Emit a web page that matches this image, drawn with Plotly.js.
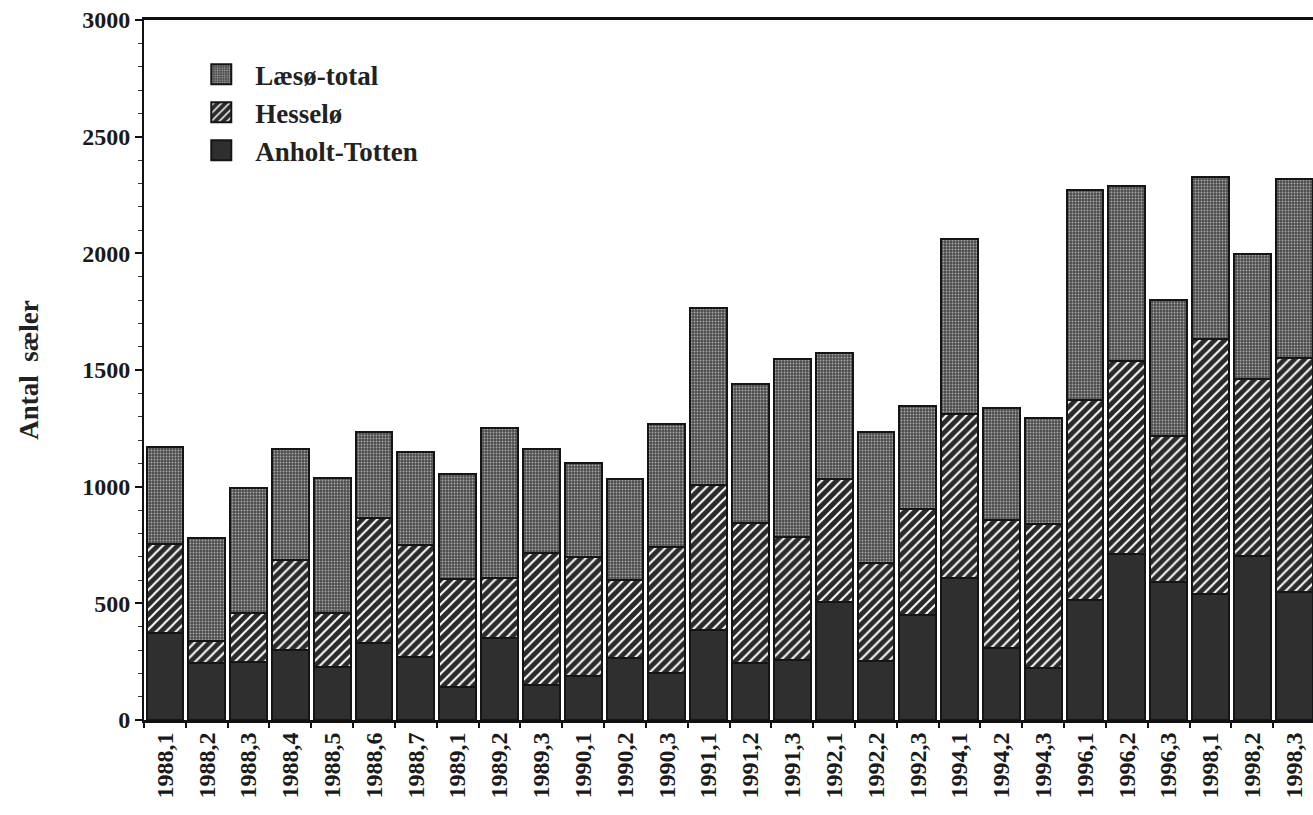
<!DOCTYPE html>
<html>
<head>
<meta charset="utf-8">
<script src="https://cdn.plot.ly/plotly-3.0.1.min.js"></script>
<style>html,body{margin:0;padding:0;background:#fff;}#chart{width:1313px;height:815px;}</style>
</head>
<body>
<div id="chart"></div>
<script>
const categories = ["1988,1","1988,2","1988,3","1988,4","1988,5","1988,6","1988,7",
  "1989,1","1989,2","1989,3","1990,1","1990,2","1990,3",
  "1991,1","1991,2","1991,3","1992,1","1992,2","1992,3",
  "1994,1","1994,2","1994,3","1996,1","1996,2","1996,3",
  "1998,1","1998,2","1998,3"];
const anholtTotten = [372,243,250,300,229,332,272,143,350,150,190,267,203,386,246,257,507,253,450,610,308,221,513,713,591,540,705,547];
const hesselo      = [383,95,208,386,229,533,478,460,257,567,507,333,540,621,600,529,525,418,455,702,551,618,859,827,626,1092,758,1006];
const laesoTotal   = [416,440,537,474,581,371,400,451,646,443,406,434,524,760,593,763,540,565,441,748,478,454,901,749,583,696,534,764];
const yTicks = [0,500,1000,1500,2000,2500,3000];

const serif = "'Liberation Serif', 'Times New Roman', serif";
const outline = {color:'#151515', width:2};

const traces = [
  {type:'bar', name:'Anholt-Totten', x:categories, y:anholtTotten,
   marker:{color:'#2f2f2f', line:outline}},
  {type:'bar', name:'Hesselø', x:categories, y:hesselo,
   marker:{color:'#2a2a2a', line:outline,
     pattern:{shape:'/', fillmode:'replace', bgcolor:'#2a2a2a', fgcolor:'#ffffff', size:7, solidity:0.28}}},
  {type:'bar', name:'Læsø-total', x:categories, y:laesoTotal,
   marker:{color:'#505050', line:outline,
     pattern:{shape:'.', fillmode:'replace', bgcolor:'#4c4c4c', fgcolor:'#a8a8a8', size:3, solidity:0.3}}}
];

const layout = {
  width:1313, height:815,
  margin:{l:144, r:0, t:20, b:95},
  paper_bgcolor:'#ffffff', plot_bgcolor:'#ffffff',
  barmode:'stack', bargap:0.12,
  showlegend:true,
  legend:{x:0.049, y:0.957, xanchor:'left', yanchor:'top', traceorder:'reversed',
    bgcolor:'rgba(0,0,0,0)', font:{family:serif, size:27, color:'#222', weight:'bold'}, itemwidth:44},
  xaxis:{type:'category', range:[-0.5, 27.45], tickangle:-90,
    showline:true, linecolor:'#111', linewidth:3, mirror:true,
    ticks:'outside', tickson:'boundaries', ticklen:5, tickwidth:2, tickcolor:'#111',
    showgrid:false, zeroline:false,
    tickfont:{family:serif, size:24, color:'#1a1a1a', weight:'bold'}},
  yaxis:{range:[0,3000], tickvals:yTicks, ticktext:yTicks.map(String),
    showline:true, linecolor:'#111', linewidth:2,
    ticks:'outside', ticklen:7, tickwidth:2, tickcolor:'#111',
    minor:{dtick:100, ticks:'outside', ticklen:4, tickwidth:1, tickcolor:'#333'},
    showgrid:false, zeroline:false,
    tickfont:{family:serif, size:24, color:'#1a1a1a', weight:'bold'},
    title:{text:'Antal  sæler', standoff:36, font:{family:serif, size:27, color:'#222', weight:'bold'}}}
};

Plotly.newPlot('chart', traces, layout, {displayModeBar:false, staticPlot:true}).then(function(){
  document.querySelectorAll('#chart .legend .legendpoints path').forEach(function(p){
    p.setAttribute('d', 'M3,10H-17V-10H3Z');
  });
});
</script>
</body>
</html>
